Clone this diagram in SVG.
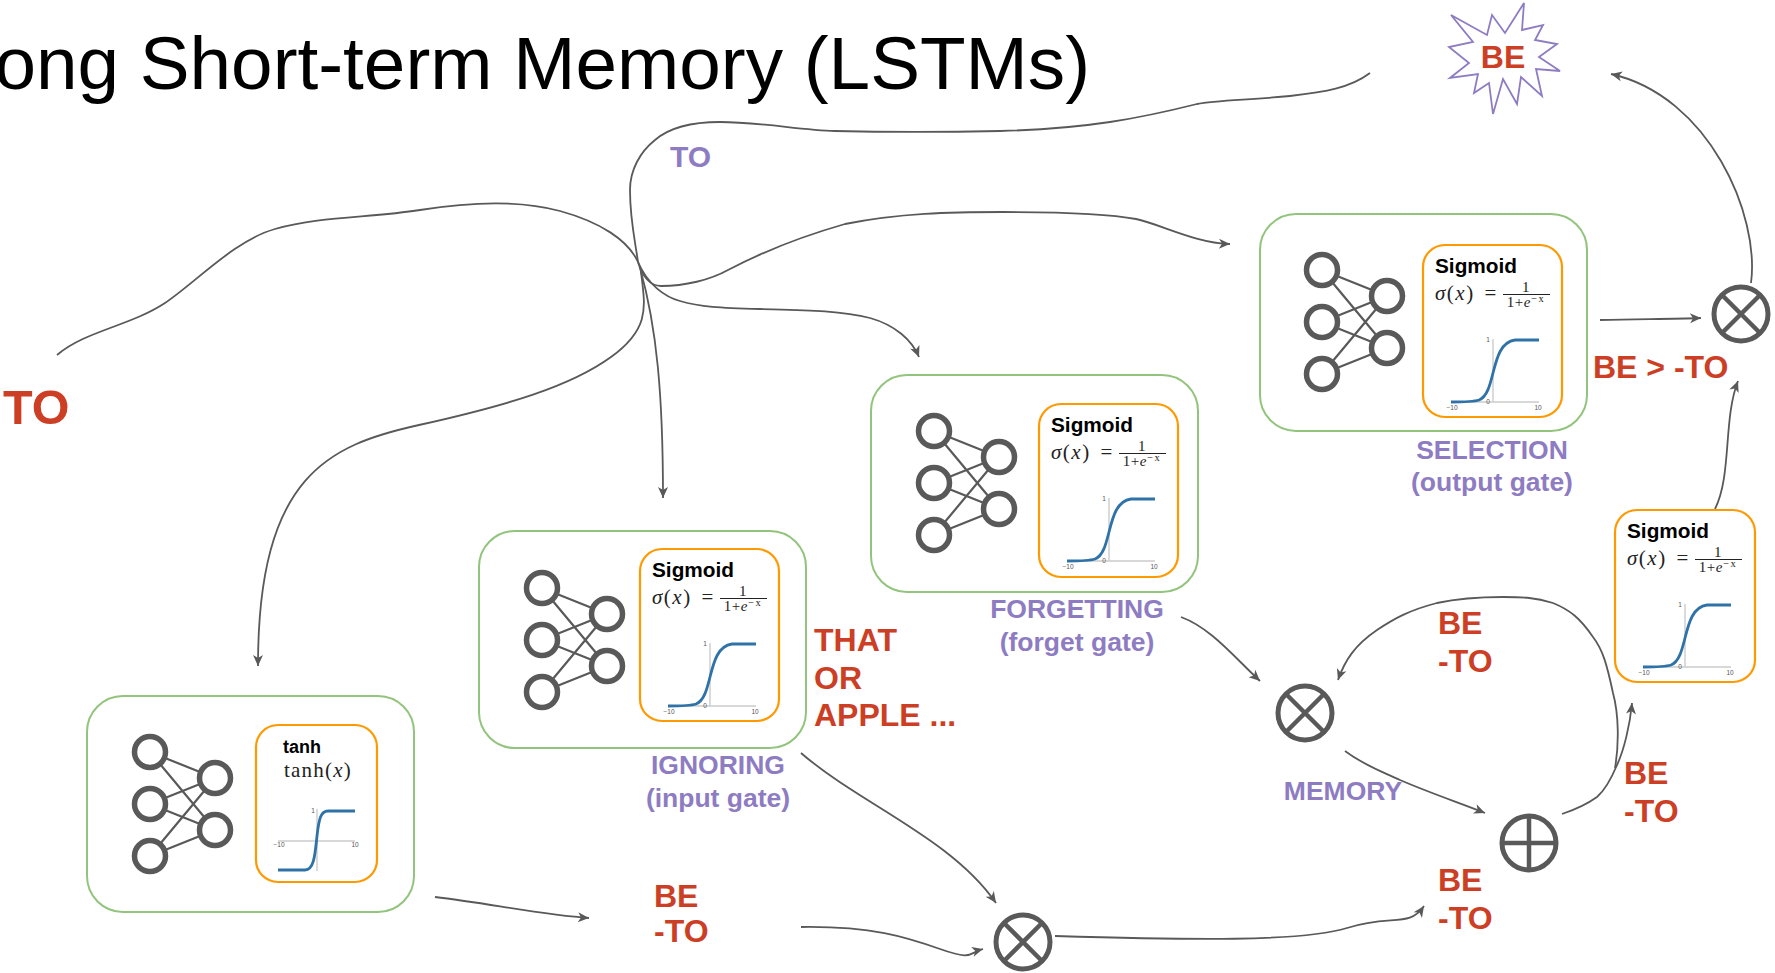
<svg xmlns="http://www.w3.org/2000/svg" width="1775" height="973" viewBox="0 0 1775 973">
<style>
text{font-family:"Liberation Sans",Arial,sans-serif}
.title{font-size:74.7px;fill:#000}
.red{font-size:32px;font-weight:700;fill:#cc3f25}
.pur{font-size:26.5px;font-weight:700;fill:#8e7cc3;text-anchor:middle}
.green{fill:#fff;stroke:#93c47d;stroke-width:2}
.orange{fill:#fff;stroke:#ff9900;stroke-width:2.2}
.fn{font-size:20.8px;font-weight:700;fill:#000}
.eq{font-family:"Liberation Serif",serif;font-size:21px;fill:#222;letter-spacing:1.5px;word-spacing:3px}
.fr{font-family:"Liberation Serif",serif;font-size:15px;fill:#222;text-anchor:middle;letter-spacing:.6px}
.sup{font-size:10.5px;letter-spacing:1.5px}
.tick{font-size:6.5px;fill:#555;text-anchor:middle}
.ax{stroke:#ccc;stroke-width:1.4;fill:none}
.cv{stroke:#2e72a8;stroke-width:2.8;fill:none}
.nc{fill:#fff;stroke:#595959;stroke-width:5.5}
.nl{stroke:#595959;stroke-width:2.2;fill:none}
.op{fill:#fff;stroke:#595959;stroke-width:5}
.opl{stroke:#595959;stroke-width:4.5;fill:none}
.c{fill:none;stroke:#595959;stroke-width:1.8;marker-end:url(#arr)}
.c0{fill:none;stroke:#595959;stroke-width:1.8}
</style>
<defs>
<marker id="arr" markerUnits="userSpaceOnUse" markerWidth="14" markerHeight="12" refX="12" refY="6" orient="auto"><path d="M1 1 L12 6 L1 11 L4 6Z" fill="#595959"/></marker>
<g id="net">
<path class="nl" d="M0 0L65 26M0 0L65 78M0 52L65 26M0 52L65 78M0 104L65 26M0 104L65 78"/>
<circle class="nc" cx="0" cy="0" r="15.5"/><circle class="nc" cx="0" cy="52" r="15.5"/><circle class="nc" cx="0" cy="104" r="15.5"/>
<circle class="nc" cx="65" cy="26" r="15.5"/><circle class="nc" cx="65" cy="78" r="15.5"/>
</g>
<g id="sigplot">
<path class="ax" d="M28 157H116M70 94V157"/>
<path class="cv" d="M28 157C43 157 50 157 56 155C64 152 67 140 70 128C74 112 78 97 92 95H116"/>
</g>
<g id="times"><circle class="op" r="27"/><path class="opl" d="M-19 -19L19 19M-19 19L19 -19"/></g>
<g id="plus"><circle class="op" r="27"/><path class="opl" d="M-27 0H27M0 -27V27"/></g>
</defs>

<text class="title" x="1090" y="89" text-anchor="end">ong Short-term Memory (LSTMs)</text>

<g id="connectors">
<path class="c0" d="M57 355C85 331 130 326 165 303C195 283 235 240 275 229C320 216 370 218 420 210C470 202 520 200 560 211C600 222 628 240 638 262"/>
<path class="c0" d="M1370 73C1350 88 1325 92 1290 96C1250 100 1215 100 1197 104C1165 112 1130 119 1110 122C1070 128 1040 130 1000 131C950 132 880 132 835 131C800 130 760 122 720 122C695 122 670 127 655 140C640 152 630 170 630 190C630 220 635 240 638 262"/>
<path class="c" d="M638 262C642 276 650 286 661 286C685 286 710 280 728 270C770 248 810 234 845 224C900 213 950 212 1003 212C1050 212 1105 213 1136 219C1160 224 1195 243 1230 244"/>
<path class="c" d="M638 262C648 285 665 297 680 301C700 307 720 308 760 309C800 310 840 310 870 318C895 325 912 340 919 357"/>
<path class="c" d="M640 268C657 328 663 396 663 498"/>
<path class="c" d="M641 272C645 306 651 328 611 357S509 405 419 425S258 475 258 666"/>
<path class="c" d="M435 897C487 903 543 915 589 918"/>
<path class="c" d="M801 927C872 926 906 937 940 949S968 953 983 949"/>
<path class="c" d="M801 753C860 804 951 838 996 903"/>
<path class="c" d="M1055 936C1189 940 1302 942 1347 928S1409 928 1424 906"/>
<path class="c" d="M1181 617C1211 628 1234 657 1260 681"/>
<path class="c" d="M1345 751C1365 766 1385 773 1400 780C1430 793 1460 803 1485 813"/>
<path class="c" d="M1562 814C1580 808 1590 802 1597 797C1605 790 1612 777 1617 765C1624 750 1630 725 1632 703"/>
<path class="c" d="M1615 768C1619 745 1619 715 1613 693C1607 665 1603 650 1593 637C1580 618 1570 610 1553 603C1535 597 1520 597 1503 597C1480 597 1460 598 1437 603C1410 610 1395 618 1377 630C1355 645 1345 660 1338 680"/>
<path class="c" d="M1600 320C1640 319 1670 319 1701 318"/>
<path class="c" d="M1715 509C1732 475 1723 419 1738 381"/>
<path class="c" d="M1751 283C1760 215 1709 96 1611 74"/>
</g>

<g id="output-be">
<polygon fill="#fff" stroke="#8e7cc3" stroke-width="1.8" points="1451,15 1487,35 1492,15 1505,33 1524,3 1522,30 1543,25 1535,40 1557,44 1539,57 1560,71 1536,69 1542,96 1521,77 1517,104 1503,79 1493,114 1489,83 1474,93 1478,74 1450,78 1469,63 1449,47 1473,42"/>
<text class="red" x="1503" y="68" text-anchor="middle">BE</text>
</g>

<g id="input-to"><text x="3" y="424" font-size="48.5" font-weight="700" fill="#cc3f25">TO</text></g>
<g id="token-to"><text x="670" y="167" font-size="30" font-weight="700" fill="#8e7cc3">TO</text></g>

<g id="tanh-node">
<rect class="green" x="87" y="696" width="327" height="216" rx="36"/>
<use href="#net" x="150" y="752"/>
<rect class="orange" x="256" y="725" width="121" height="157" rx="22"/>
<text x="283" y="753" font-size="18" font-weight="700">tanh</text>
<text class="eq" x="284" y="777" font-size="23" style="letter-spacing:1.2px">tanh(<tspan font-style="italic">x</tspan>)</text>
<path class="ax" d="M278 841H355M317 809V871"/>
<path class="cv" d="M278 870H305C314 870 315 855 317 836C319 818 321 811 328 811H355"/>
<text class="tick" x="279" y="847">−10</text><text class="tick" x="355" y="847">10</text><text class="tick" x="313" y="813">1</text>
</g>

<g id="ignoring-node">
<rect class="green" x="479" y="531" width="327" height="217" rx="36"/>
<use href="#net" x="542" y="588"/>
<g transform="translate(640 549)">
<rect class="orange" width="139" height="172" rx="22"/>
<text class="fn" x="12" y="28">Sigmoid</text>
<text class="eq" x="12" y="55"><tspan font-style="italic">σ</tspan>(<tspan font-style="italic">x</tspan>) =</text>
<text class="fr" x="103" y="47">1</text><path d="M80 49.500H127" stroke="#222" stroke-width="1"/><text class="fr" x="103" y="62">1+<tspan font-style="italic">e</tspan><tspan class="sup" dy="-5">−x</tspan></text>
<use href="#sigplot"/>
<text class="tick" x="65" y="97">1</text><text class="tick" x="65" y="159">0</text><text class="tick" x="29" y="165">−10</text><text class="tick" x="115" y="165">10</text>
</g>
</g>

<g id="forgetting-node">
<rect class="green" x="871" y="375" width="327" height="217" rx="36"/>
<use href="#net" x="934" y="431"/>
<g transform="translate(1039 404)">
<rect class="orange" width="139" height="173" rx="22"/>
<text class="fn" x="12" y="28">Sigmoid</text>
<text class="eq" x="12" y="55"><tspan font-style="italic">σ</tspan>(<tspan font-style="italic">x</tspan>) =</text>
<text class="fr" x="103" y="47">1</text><path d="M80 49.500H127" stroke="#222" stroke-width="1"/><text class="fr" x="103" y="62">1+<tspan font-style="italic">e</tspan><tspan class="sup" dy="-5">−x</tspan></text>
<use href="#sigplot"/>
<text class="tick" x="65" y="97">1</text><text class="tick" x="65" y="159">0</text><text class="tick" x="29" y="165">−10</text><text class="tick" x="115" y="165">10</text>
</g>
</g>

<g id="selection-node">
<rect class="green" x="1260" y="214" width="327" height="217" rx="36"/>
<use href="#net" x="1322" y="270"/>
<g transform="translate(1423 245)">
<rect class="orange" width="139" height="172" rx="22"/>
<text class="fn" x="12" y="28">Sigmoid</text>
<text class="eq" x="12" y="55"><tspan font-style="italic">σ</tspan>(<tspan font-style="italic">x</tspan>) =</text>
<text class="fr" x="103" y="47">1</text><path d="M80 49.500H127" stroke="#222" stroke-width="1"/><text class="fr" x="103" y="62">1+<tspan font-style="italic">e</tspan><tspan class="sup" dy="-5">−x</tspan></text>
<use href="#sigplot"/>
<text class="tick" x="65" y="97">1</text><text class="tick" x="65" y="159">0</text><text class="tick" x="29" y="165">−10</text><text class="tick" x="115" y="165">10</text>
</g>
</g>

<g id="sigmoid-node">
<g transform="translate(1615 510)">
<rect class="orange" width="140" height="172" rx="22"/>
<text class="fn" x="12" y="28">Sigmoid</text>
<text class="eq" x="12" y="55"><tspan font-style="italic">σ</tspan>(<tspan font-style="italic">x</tspan>) =</text>
<text class="fr" x="103" y="47">1</text><path d="M80 49.500H127" stroke="#222" stroke-width="1"/><text class="fr" x="103" y="62">1+<tspan font-style="italic">e</tspan><tspan class="sup" dy="-5">−x</tspan></text>
<use href="#sigplot"/>
<text class="tick" x="65" y="97">1</text><text class="tick" x="65" y="159">0</text><text class="tick" x="29" y="165">−10</text><text class="tick" x="115" y="165">10</text>
</g>
</g>

<g id="op-times-1"><use href="#times" x="1023" y="942"/></g>
<g id="op-times-2"><use href="#times" x="1305" y="713"/></g>
<g id="op-plus"><use href="#plus" x="1529" y="843"/></g>
<g id="op-times-3"><use href="#times" x="1741" y="314"/></g>

<g id="labels">
<text class="pur" x="1492" y="459">SELECTION</text><text class="pur" x="1492" y="491">(output gate)</text>
<text class="pur" x="1077" y="618">FORGETTING</text><text class="pur" x="1077" y="651">(forget gate)</text>
<text class="pur" x="718" y="774">IGNORING</text><text class="pur" x="718" y="807">(input gate)</text>
<text class="pur" x="1343" y="800">MEMORY</text>
<text class="red" x="1593" y="378">BE &gt; -TO</text>
<text class="red" x="814" y="651">THAT</text><text class="red" x="814" y="689">OR</text><text class="red" x="814" y="726">APPLE ...</text>
<text class="red" x="654" y="907">BE</text><text class="red" x="654" y="942">-TO</text>
<text class="red" x="1438" y="634">BE</text><text class="red" x="1438" y="672">-TO</text>
<text class="red" x="1624" y="784">BE</text><text class="red" x="1624" y="822">-TO</text>
<text class="red" x="1438" y="891">BE</text><text class="red" x="1438" y="929">-TO</text>
</g>
</svg>
